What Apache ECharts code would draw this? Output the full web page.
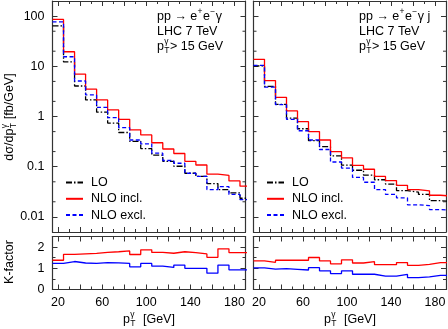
<!DOCTYPE html>
<html>
<head>
<meta charset="utf-8">
<script src="https://cdn.jsdelivr.net/npm/echarts@6/dist/echarts.min.js"></script>
<style>
html, body { margin: 0; padding: 0; background: #fff; }
#chart { width: 448px; height: 329px; }
</style>
</head>
<body>
<div id="chart"></div>
<script>
// 10 GeV bins in photon pT, starting at the 15 GeV cut
var binEdges = [15, 25, 35, 45, 55, 65, 75, 85, 95, 105, 115, 125, 135, 145, 155, 165, 175, 185, 195];

// pp -> e+e- gamma  (left panel), fb/GeV
var loA      = [64, 12.2, 4.05, 2.14, 1.22, 0.74, 0.48, 0.32, 0.23, 0.17, 0.128, 0.102, 0.074, 0.064, 0.046, 0.035, 0.030, 0.0235];
var nloInclA = [86, 19.5, 7.0, 3.5, 2.14, 1.35, 0.88, 0.54, 0.43, 0.30, 0.225, 0.183, 0.128, 0.108, 0.071, 0.067, 0.052, 0.041];
var nloExclA = [77, 15.5, 5.1, 2.69, 1.52, 0.95, 0.60, 0.34, 0.285, 0.186, 0.133, 0.117, 0.074, 0.064, 0.035, 0.040, 0.028, 0.022];
var kInclA   = [1.38, 1.66, 1.68, 1.70, 1.75, 1.78, 1.82, 1.65, 1.87, 1.75, 1.71, 1.78, 1.74, 1.68, 1.52, 1.92, 1.74, 1.74];
var kExclA   = [1.23, 1.32, 1.25, 1.23, 1.27, 1.26, 1.23, 1.07, 1.23, 1.10, 1.04, 1.15, 1.00, 1.00, 0.77, 1.15, 0.93, 0.93];

// pp -> e+e- gamma j  (right panel)
var loB      = [10.2, 4.0, 1.75, 0.93, 0.57, 0.33, 0.25, 0.165, 0.107, 0.085, 0.068, 0.055, 0.045, 0.0335, 0.031, 0.028, 0.021, 0.0205];
var nloInclB = [13.8, 5.2, 2.41, 1.29, 0.79, 0.50, 0.34, 0.20, 0.15, 0.106, 0.089, 0.064, 0.053, 0.0425, 0.035, 0.033, 0.027, 0.026];
var nloExclB = [10.4, 3.84, 1.72, 0.88, 0.52, 0.34, 0.22, 0.124, 0.094, 0.061, 0.049, 0.035, 0.028, 0.024, 0.0174, 0.0168, 0.014, 0.0137];
var kInclB   = [1.35, 1.28, 1.38, 1.38, 1.38, 1.51, 1.35, 1.21, 1.40, 1.25, 1.31, 1.17, 1.17, 1.27, 1.14, 1.19, 1.27, 1.27];
var kExclB   = [1.02, 0.96, 0.98, 0.95, 0.92, 1.03, 0.88, 0.75, 0.88, 0.72, 0.72, 0.63, 0.63, 0.71, 0.56, 0.60, 0.67, 0.67];

var seriesNames = ['LO', 'NLO incl.', 'NLO excl.'];
var xMajor  = [20, 40, 60, 80, 100, 120, 140, 160, 180];
var xMinor  = [30, 50, 70, 90, 110, 130, 150, 170];
var xLabels = [20, 60, 100, 140, 180];
var kMajor  = [0, 1, 2];
var kMinor  = [0.5, 1.5];
var logMinor = [0.02, 0.05, 0.2, 0.5, 2, 5, 20, 50];

var FONT = '"Liberation Sans", Arial, Helvetica, sans-serif';
var FRAME = '#333';
var FS = 12.5, FS_SMALL = 8.5;

var lineStyles = {
  'LO':        { color: '#000000', type: [6, 2, 1.5, 2] },
  'NLO incl.': { color: '#ff0000', type: 'solid' },
  'NLO excl.': { color: '#0000ff', type: [4, 2.5] }
};

var grids = [
  { left: 52.5,  top: 1,     width: 193,   height: 231 },
  { left: 52.5,  top: 236.5, width: 193,   height: 53 },
  { left: 253.5, top: 1,     width: 192.5, height: 231 },
  { left: 253.5, top: 236.5, width: 192.5, height: 53 }
];

function xAx(g, pos, ticks, len, labels, line) {
  return {
    gridIndex: g, type: 'value', min: 15, max: 190, position: pos,
    axisLine: { show: line, onZero: false, lineStyle: { color: FRAME, width: 1.2 } },
    axisTick: { inside: true, length: len, customValues: ticks, lineStyle: { color: FRAME, width: 1 } },
    axisLabel: { show: !!labels, customValues: labels || [], margin: 7, fontSize: FS, fontFamily: FONT, color: '#000' },
    splitLine: { show: false }
  };
}

function decade(v) {
  var l = Math.log10(v), r = Math.round(l);
  if (Math.abs(l - r) > 1e-6) return '';
  return r >= 0 ? String(Math.pow(10, r)) : Math.pow(10, r).toFixed(-r);
}

function logAx(g, pos, labels) {
  return {
    gridIndex: g, type: 'log', logBase: 10, min: 0.005, max: 200, position: pos,
    axisLine: { show: true, onZero: false, lineStyle: { color: FRAME, width: 1.2 } },
    axisTick: { inside: true, length: 5, lineStyle: { color: FRAME, width: 1 } },
    axisLabel: { show: labels, margin: 8, fontSize: FS, fontFamily: FONT, color: '#000', formatter: decade },
    splitLine: { show: false }
  };
}

function kAx(g, pos, ticks, len, labels, line) {
  return {
    gridIndex: g, type: 'value', min: 0, max: 2.5, position: pos,
    axisLine: { show: line, onZero: false, lineStyle: { color: FRAME, width: 1.2 } },
    axisTick: { inside: true, length: len, customValues: ticks, lineStyle: { color: FRAME, width: 1 } },
    axisLabel: { show: !!labels, customValues: labels || [], margin: 8, fontSize: FS, fontFamily: FONT, color: '#000' },
    splitLine: { show: false }
  };
}

function histo(name, vals, xi, yi, solid) {
  var data = vals.map(function (v, i) { return [binEdges[i], v]; });
  data.push([binEdges[vals.length], vals[vals.length - 1]]);
  var st = lineStyles[name];
  return {
    name: name, type: 'line', step: 'end', xAxisIndex: xi, yAxisIndex: yi,
    data: data, symbol: 'none', color: st.color, clip: true,
    lineStyle: { color: st.color, width: 1.3, type: solid ? 'solid' : st.type }
  };
}

// short log minor ticks (2 and 5 per decade) on both sides of a main frame
function minorTicks(xi, yi) {
  return {
    type: 'custom', xAxisIndex: xi, yAxisIndex: yi, silent: true, z: 5,
    data: logMinor.map(function (v) { return [15, v]; }),
    renderItem: function (params, api) {
      var cs = params.coordSys;
      var y = api.coord([api.value(0), api.value(1)])[1];
      var st = { stroke: FRAME, lineWidth: 1 };
      return { type: 'group', children: [
        { type: 'line', shape: { x1: cs.x, y1: y, x2: cs.x + 3, y2: y }, style: st },
        { type: 'line', shape: { x1: cs.x + cs.width, y1: y, x2: cs.x + cs.width - 3, y2: y }, style: st }
      ] };
    }
  };
}

var xAxes = [], yAxes = [], series = [];
var panels = [
  { main: [loA, nloInclA, nloExclA], k: [kInclA, kExclA] },
  { main: [loB, nloInclB, nloExclB], k: [kInclB, kExclB] }
];

panels.forEach(function (p, pi) {
  var gMain = pi * 2, gK = pi * 2 + 1;
  var yLabels = pi === 0;
  // main panel
  var xi = xAxes.length;
  xAxes.push(xAx(gMain, 'bottom', xMajor, 5, null, true));
  xAxes.push(xAx(gMain, 'bottom', xMinor, 3, null, false));
  xAxes.push(xAx(gMain, 'top', xMajor, 5, null, true));
  xAxes.push(xAx(gMain, 'top', xMinor, 3, null, false));
  var yi = yAxes.length;
  yAxes.push(logAx(gMain, 'left', yLabels));
  yAxes.push(logAx(gMain, 'right', false));
  p.main.forEach(function (vals, si) { series.push(histo(seriesNames[si], vals, xi, yi, false)); });
  series.push(minorTicks(xi, yi));
  // K-factor panel (NLO / LO), drawn with solid lines
  xi = xAxes.length;
  xAxes.push(xAx(gK, 'bottom', xMajor, 5, xLabels, true));
  xAxes.push(xAx(gK, 'bottom', xMinor, 3, null, false));
  xAxes.push(xAx(gK, 'top', xMajor, 5, null, true));
  xAxes.push(xAx(gK, 'top', xMinor, 3, null, false));
  yi = yAxes.length;
  yAxes.push(kAx(gK, 'left', kMajor, 5, yLabels ? kMajor : null, true));
  yAxes.push(kAx(gK, 'left', kMinor, 3, null, false));
  yAxes.push(kAx(gK, 'right', kMajor, 5, null, true));
  yAxes.push(kAx(gK, 'right', kMinor, 3, null, false));
  series.push(histo('NLO incl.', p.k[0], xi, yi, true));
  series.push(histo('NLO excl.', p.k[1], xi, yi, true));
});

// text with stacked sub/superscripts, laid out left to right from (0,0)
var measureCtx = document.createElement('canvas').getContext('2d');
function textWidth(s, fs) {
  measureCtx.font = fs + 'px ' + FONT;
  return measureCtx.measureText(s).width;
}
function txt(s, x, y, fs) {
  return { type: 'text', x: x, y: y, style: {
    text: s, fontSize: fs, fontFamily: FONT, fill: '#000',
    align: 'left', verticalAlign: 'middle', textAlign: 'left', textVerticalAlign: 'middle'
  } };
}
function richLine(parts) {
  var x = 0, kids = [];
  parts.forEach(function (p) {
    if (p.t) {
      kids.push(txt(p.t, x, 0, FS));
      x += textWidth(p.t, FS);
    } else {
      var w = 0;
      if (p.sup) { kids.push(txt(p.sup, x + 0.3, -5, FS_SMALL)); w = Math.max(w, textWidth(p.sup, FS_SMALL)); }
      if (p.sub) { kids.push(txt(p.sub, x + 0.3, 3.5, FS_SMALL)); w = Math.max(w, textWidth(p.sub, FS_SMALL)); }
      x += w + 0.8;
    }
  });
  return { kids: kids, width: x };
}
function placed(parts, x, y, anchor, rotation) {
  var r = richLine(parts);
  var dx = anchor === 'center' ? -r.width / 2 : 0;
  r.kids.forEach(function (k) { k.x += dx; });
  return { type: 'group', x: x, y: y, rotation: rotation || 0, children: r.kids };
}

var ptg = { sub: 'T', sup: 'γ' };
var graphics = [
  placed([{ t: 'dσ/dp' }, ptg, { t: ' [fb/GeV]' }], 10, 117, 'center', Math.PI / 2),
  placed([{ t: 'K-factor' }], 10, 262, 'center', Math.PI / 2),
  placed([{ t: 'p' }, ptg, { t: '  [GeV]' }], 149, 320, 'center'),
  placed([{ t: 'p' }, ptg, { t: '  [GeV]' }], 350, 320, 'center'),
  placed([{ t: 'pp → e' }, { sup: '+' }, { t: 'e' }, { sup: '−' }, { t: 'γ' }], 157, 17, 'left'),
  placed([{ t: 'LHC 7 TeV' }], 157, 32, 'left'),
  placed([{ t: 'p' }, ptg, { t: '> 15 GeV' }], 157, 47, 'left'),
  placed([{ t: 'pp → e' }, { sup: '+' }, { t: 'e' }, { sup: '−' }, { t: 'γ j' }], 359, 17, 'left'),
  placed([{ t: 'LHC 7 TeV' }], 359, 32, 'left'),
  placed([{ t: 'p' }, ptg, { t: '> 15 GeV' }], 359, 47, 'left')
];

function legendAt(left) {
  return {
    data: seriesNames, orient: 'vertical', left: left, top: 176, padding: 0,
    itemWidth: 17, itemHeight: 12, itemGap: 3.3,
    itemStyle: { color: 'rgba(0,0,0,0)', borderWidth: 0, opacity: 0 },
    textStyle: { fontSize: FS, fontFamily: FONT, color: '#000', lineHeight: 12, padding: [0, 0, 0, 3] }
  };
}

var chart = echarts.init(document.getElementById('chart'), null, { renderer: 'canvas' });
chart.setOption({
  animation: false,
  backgroundColor: '#fff',
  grid: grids.map(function (g) {
    return Object.assign({ containLabel: false, outerBoundsMode: 'none' }, g);
  }),
  xAxis: xAxes,
  yAxis: yAxes,
  legend: [legendAt(65), legendAt(266)],
  graphic: graphics,
  series: series
});
</script>
</body>
</html>
